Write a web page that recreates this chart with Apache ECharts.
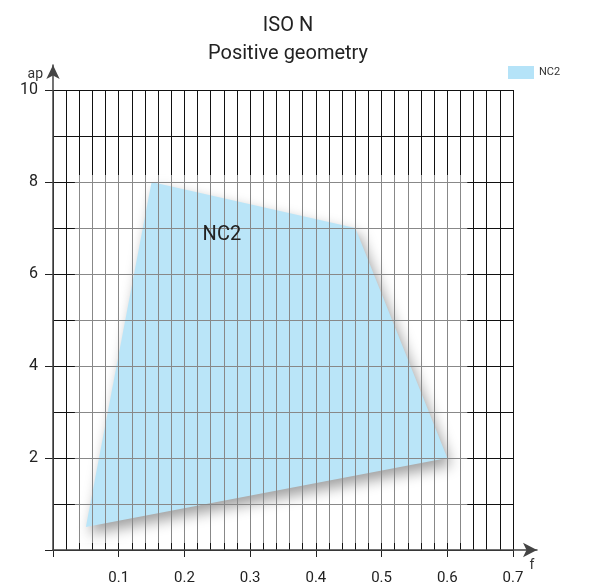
<!DOCTYPE html>
<html>
<head>
<meta charset="utf-8">
<script src="https://cdn.jsdelivr.net/npm/echarts@6/dist/echarts.min.js"></script>
<style>html,body{margin:0;padding:0;background:#fff}#c{width:597px;height:588px}</style>
</head>
<body>
<div id="c"></div>
<script>
const titleLines = ['ISO N', 'Positive geometry'];
const seriesName = 'NC2';
const fValues = [0.05, 0.15, 0.46, 0.6];
const apValues = [0.5, 8, 7, 2];
const labelPoint = [0.257, 6.84];
const xName = 'f';
const yName = 'ap';

const FONT = 'Roboto, "Noto Sans", sans-serif';
const chart = echarts.init(document.getElementById('c'), null, {renderer: 'canvas'});

const polyData = fValues.map((f, i) => [f, apValues[i]]);

const option = {
  animation: false,
  backgroundColor: '#fff',
  textStyle: {fontFamily: FONT},
  title: {
    text: titleLines.join('\n'),
    left: 283, top: 7, textAlign: 'center',
    textStyle: {fontFamily: FONT, fontSize: 20, fontWeight: 'normal', color: '#222', lineHeight: 28}
  },
  legend: {
    data: [seriesName],
    left: 503, top: 61,
    icon: 'rect', itemWidth: 26, itemHeight: 13, itemGap: 5,
    textStyle: {fontFamily: FONT, fontSize: 11, color: '#333'}
  },
  grid: [
    {left: 53, top: 90, width: 460, height: 460},
    {left: 53, top: 65, width: 484, height: 485}
  ],
  xAxis: [
    {gridIndex: 0, type: 'value', position: 'bottom', min: 0, max: 0.7, interval: 0.02, z: 3,
     axisLine: {show: false, onZero: false}, axisTick: {show: false}, axisLabel: {show: false},
     splitLine: {show: true, lineStyle: {color: '#111', width: 1}}},
    {gridIndex: 0, type: 'value', position: 'bottom', offset: 0, min: 0, max: 0.7, interval: 0.1, z: 6,
     axisLine: {show: false, onZero: false}, splitLine: {show: false},
     axisTick: {show: true, length: 7, lineStyle: {color: '#222', width: 1}},
     axisLabel: {show: true, margin: 21, fontSize: 15, color: '#222', fontFamily: FONT,
       formatter: v => (Math.abs(v) < 1e-9 ? '' : v.toFixed(1))}},
    {gridIndex: 1, type: 'value', position: 'bottom', min: 0, max: 1, z: 7,
     axisLine: {show: true, onZero: false, symbol: ['none', 'arrow'], symbolSize: [11, 14], lineStyle: {color: '#444', width: 1.5}},
     axisTick: {show: false}, axisLabel: {show: false}, splitLine: {show: false},
     name: xName, nameLocation: 'end', nameGap: -5,
     nameTextStyle: {fontFamily: FONT, fontSize: 14, color: '#333', align: 'center', verticalAlign: 'top', padding: [8, 0, 0, 0]}}
  ],
  yAxis: [
    {gridIndex: 0, type: 'value', position: 'left', min: 0, max: 10, interval: 1, z: 3,
     axisLine: {show: false, onZero: false}, axisTick: {show: false}, axisLabel: {show: false},
     splitLine: {show: true, lineStyle: {color: '#111', width: 1}}},
    {gridIndex: 0, type: 'value', position: 'left', offset: 0, min: 0, max: 10, interval: 2, z: 6,
     axisLine: {show: false, onZero: false}, splitLine: {show: false},
     axisTick: {show: true, length: 8, lineStyle: {color: '#222', width: 1}},
     axisLabel: {show: true, margin: 15, fontSize: 16, color: '#222', fontFamily: FONT,
       formatter: v => (v === 0 ? '' : String(v))}},
    {gridIndex: 1, type: 'value', position: 'left', min: 0, max: 1, z: 7,
     axisLine: {show: true, onZero: false, symbol: ['none', 'arrow'], symbolSize: [10, 14], lineStyle: {color: '#444', width: 1.5}},
     axisTick: {show: false}, axisLabel: {show: false}, splitLine: {show: false},
     name: yName, nameLocation: 'end', nameGap: -9,
     nameTextStyle: {fontFamily: FONT, fontSize: 14, color: '#333', align: 'right', verticalAlign: 'middle', padding: [0, 10, 0, 0]}}
  ],
  series: [
    {
      name: seriesName, type: 'custom', xAxisIndex: 0, yAxisIndex: 0, z: 1,
      itemStyle: {color: '#b5e3f8'},
      data: polyData,
      renderItem: function (params, api) {
        if (params.dataIndex !== 0) return null;
        const pts = fValues.map((f, i) => api.coord([f, apValues[i]]));
        return {
          type: 'polygon',
          shape: {points: pts},
          style: {fill: '#75cbf1', shadowBlur: 14, shadowColor: 'rgba(0,0,0,0.75)', shadowOffsetX: 4, shadowOffsetY: 7}
        };
      }
    },
    {
      name: 'overlay', type: 'custom', xAxisIndex: 0, yAxisIndex: 0, z: 5,
      data: polyData,
      renderItem: function (params, api) {
        if (params.dataIndex !== 0) return null;
        const pts = fValues.map((f, i) => api.coord([f, apValues[i]]));
        const xs = pts.map(p => p[0]), ys = pts.map(p => p[1]);
        const x0 = Math.min(...xs) - 11, x1 = Math.max(...xs) + 20;
        const y0 = Math.min(...ys) - 7, y1 = Math.max(...ys) + 16;
        const lp = api.coord(labelPoint);
        return {
          type: 'group',
          children: [
            {type: 'rect', shape: {x: x0, y: y0, width: x1 - x0, height: y1 - y0},
             style: {fill: 'rgba(255,255,255,0.5)'}},
            {type: 'text', x: lp[0], y: lp[1],
             style: {text: seriesName, fontFamily: FONT, fontSize: 20, fill: '#222', align: 'center', verticalAlign: 'middle'}}
          ]
        };
      }
    }
  ]
};
chart.setOption(option);
</script>
</body>
</html>
